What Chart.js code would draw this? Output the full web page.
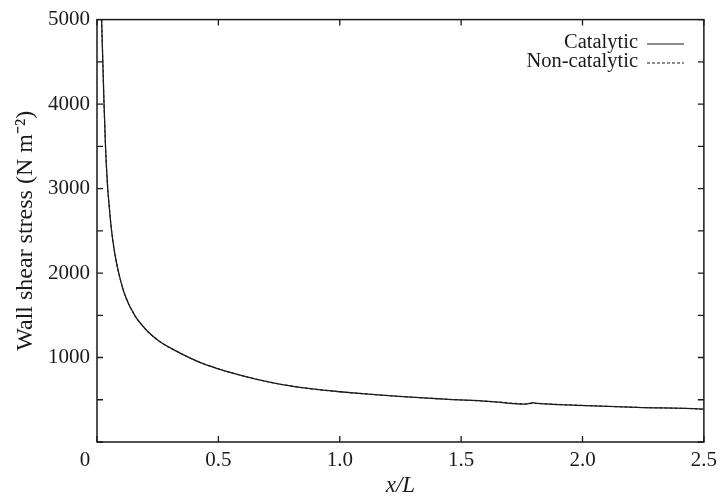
<!DOCTYPE html>
<html>
<head>
<meta charset="utf-8">
<script src="https://cdn.jsdelivr.net/npm/chart.js@4/dist/chart.umd.min.js"></script>
<style>
  html, body { margin: 0; padding: 0; background: #fff; }
  #wrap { width: 723px; height: 500px; }
</style>
</head>
<body>
<div id="wrap"><canvas id="c" width="723" height="500"></canvas></div>
<script>
// ---- data ----
const xPositions = [0.019, 0.024, 0.029, 0.035, 0.043, 0.050, 0.060, 0.074, 0.090, 0.115, 0.156, 0.185, 0.210, 0.258, 0.313, 0.422, 0.500, 0.559, 0.654, 0.763, 0.887, 1.000, 1.105, 1.242, 1.406, 1.447, 1.611, 1.768, 1.795, 1.816, 2.020, 2.225, 2.490, 2.500];
const catalytic = [5000, 4500, 4000, 3500, 3050, 2800, 2500, 2220, 1994, 1741, 1495, 1385, 1305, 1190, 1097, 945, 866, 815, 745, 680, 628, 595, 570, 541, 512, 505, 482, 449, 465, 457, 430, 410, 390, 388];
const nonCatalytic = [5000, 4500, 4000, 3500, 3050, 2800, 2500, 2220, 1994, 1741, 1495, 1385, 1305, 1190, 1097, 945, 866, 815, 745, 680, 628, 595, 570, 541, 512, 505, 482, 452, 456, 455, 430, 410, 390, 388];
const seriesLabels = ['Catalytic', 'Non-catalytic'];
const xTicks = [0, 0.5, 1.0, 1.5, 2.0, 2.5];
const yMajorTicks = [0, 1000, 2000, 3000, 4000, 5000];
const yMinorTicks = [500, 1500, 2500, 3500, 4500];
const xTitle = 'x/L';
const yTitle = 'Wall shear stress (N m\u207B\u00B2)';

const SERIF = "'Liberation Serif', 'Times New Roman', serif";
const INK = '#1a1a1a';

const toPts = (ys) => xPositions.map((x, i) => ({ x: x, y: ys[i] }));

const framePlugin = {
  id: 'frame',
  afterDraw(chart) {
    const ctx = chart.ctx;
    const xs = chart.scales.x, ys = chart.scales.y;
    const l = xs.left, r = xs.right, t = ys.top, b = ys.bottom;
    ctx.save();
    ctx.strokeStyle = INK;
    ctx.lineWidth = 1.5;
    ctx.strokeRect(l, t, r - l, b - t);
    ctx.lineWidth = 1.3;
    const tl = 6;
    ctx.beginPath();
    xTicks.forEach(v => {
      const px = xs.getPixelForValue(v);
      ctx.moveTo(px, b); ctx.lineTo(px, b - tl);
      ctx.moveTo(px, t); ctx.lineTo(px, t + tl);
    });
    yMajorTicks.concat(yMinorTicks).forEach(v => {
      const py = ys.getPixelForValue(v);
      ctx.moveTo(l, py); ctx.lineTo(l + tl, py);
      ctx.moveTo(r, py); ctx.lineTo(r - tl, py);
    });
    ctx.stroke();

    // origin label
    ctx.fillStyle = INK;
    ctx.font = '21px ' + SERIF;
    ctx.textAlign = 'center';
    ctx.textBaseline = 'top';
    ctx.fillText('0', l - 12, b + 8);

    // legend (text then sample line)
    const ds = chart.data.datasets;
    const textRight = 638, lineL = 647, lineR = 684;
    const rows = [43, 62];
    ds.forEach((d, i) => {
      ctx.font = '20.5px ' + SERIF;
      ctx.textAlign = 'right';
      ctx.textBaseline = 'middle';
      ctx.fillStyle = INK;
      ctx.fillText(d.label, textRight, rows[i]);
      ctx.beginPath();
      ctx.lineWidth = 1.2;
      ctx.setLineDash(d.borderDash || []);
      ctx.moveTo(lineL, rows[i] + 1);
      ctx.lineTo(lineR, rows[i] + 1);
      ctx.stroke();
      ctx.setLineDash([]);
    });
    ctx.restore();
  }
};

new Chart(document.getElementById('c'), {
  type: 'line',
  data: {
    datasets: [
      {
        label: seriesLabels[0],
        data: toPts(catalytic),
        borderColor: INK,
        borderWidth: 1.3,
        pointRadius: 0,
        cubicInterpolationMode: 'monotone',
        order: 0
      },
      {
        label: seriesLabels[1],
        data: toPts(nonCatalytic),
        borderColor: INK,
        borderWidth: 1.1,
        borderDash: [3, 2],
        pointRadius: 0,
        cubicInterpolationMode: 'monotone',
        order: 1
      }
    ]
  },
  options: {
    responsive: false,
    devicePixelRatio: 1,
    animation: false,
    layout: { padding: { top: 15, right: 16, left: 0, bottom: 0 } },
    plugins: { legend: { display: false }, tooltip: { enabled: false } },
    scales: {
      x: {
        type: 'linear',
        min: 0, max: 2.5,
        afterBuildTicks: (s) => { s.ticks = xTicks.map(v => ({ value: v })); },
        afterFit: (s) => { s.height = 58; },
        grid: { display: false, drawTicks: false },
        border: { display: false },
        ticks: {
          color: INK,
          font: { family: SERIF, size: 21 },
          padding: 6,
          maxRotation: 0,
          callback: (v) => (v === 0 ? '' : Number(v).toFixed(1))
        },
        title: {
          display: true,
          text: xTitle,
          color: INK,
          font: { family: SERIF, size: 23, style: 'italic' },
          padding: { top: 0, bottom: 0 }
        }
      },
      y: {
        type: 'linear',
        min: 0, max: 5000,
        afterBuildTicks: (s) => { s.ticks = yMajorTicks.map(v => ({ value: v })); },
        afterFit: (s) => { s.width = 97; },
        grid: { display: false, drawTicks: false },
        border: { display: false },
        ticks: {
          color: INK,
          font: { family: SERIF, size: 21 },
          padding: 7,
          callback: (v) => (v === 0 ? '' : String(v))
        },
        title: {
          display: true,
          text: yTitle,
          color: INK,
          font: { family: SERIF, size: 24 },
          padding: { top: 11, bottom: 0 }
        }
      }
    }
  },
  plugins: [framePlugin]
});
</script>
</body>
</html>
